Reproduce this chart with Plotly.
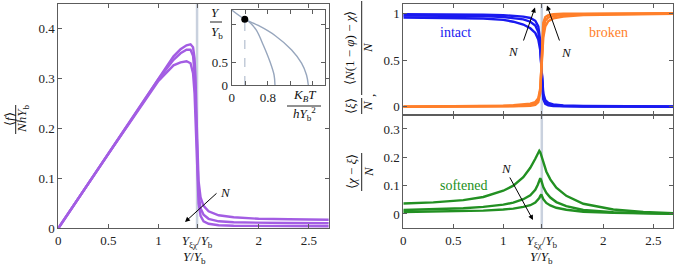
import plotly.graph_objects as go

W, H = 675, 268
FONT = "Liberation Serif, Times New Roman, serif"

# ---------------- data ----------------
# left panel: <f>/(N h Y_b) vs Y/Y_b, three N values
f_x = [0, 0.5, 1.0, 1.15, 1.22, 1.28, 1.32, 1.345, 1.36, 1.37, 1.38, 1.39, 1.40, 1.42, 1.45, 1.5, 1.6, 1.75, 2.0, 2.3, 2.7]
f_a = [0, 0.15, 0.30, 0.344, 0.358, 0.366, 0.368, 0.362, 0.34, 0.30, 0.22, 0.14, 0.095, 0.062, 0.045, 0.034, 0.026, 0.022, 0.019, 0.018, 0.017]
f_b = [0, 0.15, 0.298, 0.337, 0.35, 0.357, 0.357, 0.345, 0.31, 0.26, 0.18, 0.11, 0.07, 0.04, 0.027, 0.019, 0.014, 0.012, 0.011, 0.0105, 0.010]
f_c = [0, 0.149, 0.295, 0.326, 0.332, 0.334, 0.33, 0.31, 0.27, 0.22, 0.15, 0.085, 0.05, 0.025, 0.014, 0.009, 0.006, 0.005, 0.0045, 0.004, 0.004]

# right top: intact / broken fractions
p_x = [0, 0.4, 0.8, 1.0, 1.1, 1.2, 1.27, 1.32, 1.35, 1.37, 1.38, 1.39, 1.40, 1.42, 1.45, 1.5, 1.6, 1.8, 2.2, 2.7]
intact_1 = [0.99, 0.99, 0.985, 0.98, 0.975, 0.965, 0.95, 0.92, 0.86, 0.70, 0.45, 0.20, 0.08, 0.03, 0.015, 0.008, 0.004, 0.002, 0.001, 0.0]
intact_2 = [0.975, 0.975, 0.97, 0.96, 0.95, 0.935, 0.91, 0.87, 0.80, 0.65, 0.43, 0.22, 0.10, 0.045, 0.025, 0.014, 0.007, 0.004, 0.002, 0.001]
intact_3 = [0.955, 0.953, 0.945, 0.93, 0.91, 0.88, 0.84, 0.79, 0.72, 0.60, 0.42, 0.25, 0.14, 0.07, 0.04, 0.025, 0.014, 0.008, 0.004, 0.002]
broken_1 = [0.0, 0.0, 0.001, 0.002, 0.003, 0.006, 0.01, 0.02, 0.05, 0.15, 0.40, 0.75, 0.90, 0.96, 0.98, 0.99, 0.995, 0.997, 0.999, 1.0]
broken_2 = [0.0, 0.001, 0.003, 0.005, 0.008, 0.013, 0.02, 0.035, 0.07, 0.18, 0.40, 0.66, 0.83, 0.92, 0.955, 0.97, 0.982, 0.99, 0.995, 0.998]
broken_3 = [0.001, 0.003, 0.006, 0.01, 0.015, 0.022, 0.033, 0.05, 0.09, 0.20, 0.38, 0.58, 0.74, 0.86, 0.915, 0.945, 0.965, 0.98, 0.99, 0.996]

# right bottom: softened fraction
s_x = [0, 0.3, 0.6, 0.8, 1.0, 1.1, 1.2, 1.27, 1.32, 1.345, 1.36, 1.37, 1.38, 1.40, 1.43, 1.47, 1.53, 1.63, 1.8, 2.1, 2.4, 2.7]
soft_1 = [0.037, 0.041, 0.049, 0.06, 0.082, 0.10, 0.13, 0.163, 0.195, 0.213, 0.223, 0.218, 0.205, 0.18, 0.15, 0.122, 0.093, 0.064, 0.036, 0.016, 0.007, 0.003]
soft_2 = [0.014, 0.016, 0.02, 0.025, 0.033, 0.04, 0.052, 0.066, 0.085, 0.103, 0.117, 0.126, 0.118, 0.095, 0.075, 0.058, 0.042, 0.028, 0.014, 0.006, 0.003, 0.001]
soft_3 = [0.007, 0.008, 0.01, 0.012, 0.016, 0.019, 0.025, 0.031, 0.04, 0.048, 0.056, 0.064, 0.069, 0.052, 0.039, 0.03, 0.022, 0.015, 0.008, 0.004, 0.002, 0.001]

# inset: phase diagram Y/Y_b vs K_B T/(h Y_b^2)
in_outer_x = [0, 0.29, 0.59, 0.96, 1.33, 1.55, 1.66, 1.70]
in_outer_y = [1.65, 1.447, 1.31, 1.09, 0.77, 0.48, 0.22, 0]
in_inner_x = [0.29, 0.42, 0.55, 0.70, 0.85, 0.94, 0.96]
in_inner_y = [1.447, 1.36, 1.2, 0.88, 0.51, 0.22, 0]
in_dot = (0.29, 1.447)

Y_XI_CHI = 1.385
x_tickvals = [0, 0.5, 1, Y_XI_CHI, 2, 2.5]
x_ticktext = ["0", "0.5", "1", "<i>Y</i><sub>ξχ</sub>/<i>Y</i><sub>b</sub>", "2", "2.5"]

# ---------------- styling ----------------
PURPLE = "#a35de3"
BLUE = "#1a1af0"
ORANGE = "#ff7f2a"
GREEN = "#229022"
VLINE = "#c9d1de"
INSET = "#97a6bd"
AX = "#5c5c5c"


def X(px):
    return px / W


def Y(py):
    return 1 - py / H


fig = go.Figure()

for yy in (f_a, f_b, f_c):
    fig.add_trace(go.Scatter(x=f_x, y=yy, mode="lines", line=dict(color=PURPLE, width=2.4),
                             xaxis="x", yaxis="y", showlegend=False, hoverinfo="skip"))
for yy in (intact_1, intact_2, intact_3):
    fig.add_trace(go.Scatter(x=p_x, y=yy, mode="lines", line=dict(color=BLUE, width=2.4),
                             xaxis="x2", yaxis="y2", showlegend=False, hoverinfo="skip"))
for yy in (broken_1, broken_2, broken_3):
    fig.add_trace(go.Scatter(x=p_x, y=yy, mode="lines", line=dict(color=ORANGE, width=2.4),
                             xaxis="x2", yaxis="y2", showlegend=False, hoverinfo="skip"))
for yy in (soft_1, soft_2, soft_3):
    fig.add_trace(go.Scatter(x=s_x, y=yy, mode="lines", line=dict(color=GREEN, width=2.4),
                             xaxis="x3", yaxis="y3", showlegend=False, hoverinfo="skip"))

# inset traces
fig.add_trace(go.Scatter(x=[in_dot[0], in_dot[0]], y=[0, in_dot[1]], mode="lines",
                         line=dict(color="#c3ccd9", width=1.5, dash="dash"),
                         xaxis="x4", yaxis="y4", showlegend=False, hoverinfo="skip"))
fig.add_trace(go.Scatter(x=in_outer_x, y=in_outer_y, mode="lines", line=dict(color=INSET, width=1.4, shape="spline"),
                         xaxis="x4", yaxis="y4", showlegend=False, hoverinfo="skip"))
fig.add_trace(go.Scatter(x=in_inner_x, y=in_inner_y, mode="lines", line=dict(color=INSET, width=1.4, shape="spline"),
                         xaxis="x4", yaxis="y4", showlegend=False, hoverinfo="skip"))
fig.add_trace(go.Scatter(x=[in_dot[0]], y=[in_dot[1]], mode="markers", marker=dict(color="black", size=7),
                         xaxis="x4", yaxis="y4", showlegend=False, hoverinfo="skip"))

axis_common = dict(showline=True, mirror="ticks", linecolor=AX, linewidth=1, ticks="inside",
                   ticklen=4, tickcolor=AX, showgrid=False, zeroline=False, automargin=False,
                   tickfont=dict(family=FONT, size=13, color="#222"))

fig.update_layout(
    width=W, height=H, margin=dict(l=0, r=0, t=0, b=0, autoexpand=False),
    paper_bgcolor="white", plot_bgcolor="white",
    font=dict(family=FONT),
    xaxis=dict(domain=[X(58.3), X(328.8)], range=[0, 2.7], tickvals=x_tickvals, ticktext=x_ticktext,
               anchor="y", **axis_common),
    yaxis=dict(domain=[Y(228.3), Y(4)], range=[0, 0.4486], tickvals=[0, 0.1, 0.2, 0.3, 0.4],
               ticktext=["0", "0.1", "0.2", "0.3", "0.4"], anchor="x", **axis_common),
    xaxis2=dict(domain=[X(403.3), X(673.3)], range=[0, 2.7], tickvals=x_tickvals, showticklabels=False,
                anchor="y2", **axis_common),
    yaxis2=dict(domain=[Y(114.5), Y(3.5)], range=[-0.0835, 1.105], tickvals=[0, 0.5, 1],
                ticktext=["0", "0.5", "1"], anchor="x2", **axis_common),
    xaxis3=dict(domain=[X(403.3), X(673.3)], range=[0, 2.7], tickvals=x_tickvals, ticktext=x_ticktext,
                anchor="y3", **axis_common),
    yaxis3=dict(domain=[Y(228.3), Y(114.5)], range=[-0.0505, 0.351], tickvals=[0, 0.1, 0.2, 0.3],
                ticktext=["0", "0.1", "0.2", "0.3"], anchor="x3", **axis_common),
    xaxis4=dict(domain=[X(231.7), X(325)], range=[0, 2.07], tickvals=[0, 0.3, 0.8, 1.3, 1.8],
                ticktext=["0", "", "0.8", "", ""], anchor="y4", **axis_common),
    yaxis4=dict(domain=[Y(85), Y(10)], range=[0, 1.65], tickvals=[0, 0.5, 1.34],
                ticktext=["0", "0.5", ""], anchor="x4", **axis_common),
)

shapes = []
for xa, ya in (("x", "y"), ("x2", "y2"), ("x3", "y3")):
    shapes.append(dict(type="line", xref=xa, yref=ya + " domain", x0=Y_XI_CHI, x1=Y_XI_CHI, y0=0, y1=1,
                       line=dict(color=VLINE, width=2.5), layer="below"))

annots = []


def txt(px, py, text, size=13, color="#111", angle=0, italic=False):
    if italic:
        text = "<i>" + text + "</i>"
    annots.append(dict(x=X(px), y=Y(py), xref="paper", yref="paper", text=text, showarrow=False,
                       font=dict(family=FONT, size=size, color=color), textangle=angle,
                       xanchor="center", yanchor="middle"))


def hbar(x0, x1, py):
    shapes.append(dict(type="line", xref="paper", yref="paper", x0=X(x0), x1=X(x1), y0=Y(py), y1=Y(py),
                       line=dict(color="#222", width=1)))


def vbar(px, y0, y1):
    shapes.append(dict(type="line", xref="paper", yref="paper", x0=X(px), x1=X(px), y0=Y(y0), y1=Y(y1),
                       line=dict(color="#222", width=1)))


# left y label: <f>/(N h Y_b)
txt(9.5, 119.5, "⟨<i>f</i>⟩", angle=-90)
vbar(15.7, 105, 134)
txt(22.5, 119.5, "<i>NhY</i><sub>b</sub>", angle=-90)

# right top y label
txt(350, 48, "⟨<i>N</i>(1 − <i>φ</i>) − <i>χ</i>⟩", angle=-90)
vbar(361.7, 1, 95)
txt(368, 48, "<i>N</i>", angle=-90)
txt(351, 106, "⟨<i>ξ</i>⟩", angle=-90)
vbar(361.7, 98, 114)
txt(368, 106, "<i>N</i>", angle=-90)
txt(370, 96, ",", angle=-90)

# right bottom y label
txt(351, 172, "⟨<i>χ</i> − <i>ξ</i>⟩", angle=-90)
vbar(361.7, 153, 191)
txt(368, 172, "<i>N</i>", angle=-90)

# x titles
txt(195, 257, "<i>Y</i>/<i>Y</i><sub>b</sub>")
txt(541.7, 257, "<i>Y</i>/<i>Y</i><sub>b</sub>")

# inset labels
txt(215, 13, "<i>Y</i>")
hbar(210, 222, 22)
txt(217, 32, "<i>Y</i><sub>b</sub>")
txt(304, 96, "<i>K</i><sub><i>B</i></sub><i>T</i>")
hbar(287, 321, 106)
txt(304, 114, "<i>hY</i><sub>b</sub><sup>2</sup>")

# curve labels
txt(455, 32, "intact", size=14, color=BLUE)
txt(608, 32, "broken", size=14, color=ORANGE)
txt(463, 185, "softened", size=14, color=GREEN)

# N labels
txt(225, 192, "N", italic=True)
txt(513, 51, "N", italic=True)
txt(566, 52, "N", italic=True)
txt(506, 168, "N", italic=True)


def arrow(xa, ya, hx, hy, tx_px, ty_px, hpx, hpy):
    annots.append(dict(x=hx, y=hy, xref=xa, yref=ya, ax=tx_px - hpx, ay=ty_px - hpy,
                       showarrow=True, arrowhead=2, arrowsize=1, arrowwidth=1, arrowcolor="black", text=""))


# left arrow: tail (218,192) -> head (185,222)
arrow("x", "y", (185 - 58.3) / 270.5 * 2.7, (228.3 - 222) / 224.3 * 0.4486, 218, 192, 185, 222)
# right top arrows
arrow("x2", "y2", (535 - 403.3) / 270 * 2.7, 1.105 - (7.5 - 3.5) / 111 * 1.1885, 523, 42, 535, 7.5)
arrow("x2", "y2", (547 - 403.3) / 270 * 2.7, 1.105 - (5.5 - 3.5) / 111 * 1.1885, 560, 42, 547, 5.5)
# right bottom arrow
arrow("x3", "y3", (533 - 403.3) / 270 * 2.7, 0.351 - (220 - 114.5) / 113.8 * 0.4015, 509, 176, 533, 220)

fig.update_layout(shapes=shapes, annotations=annots)
fig.write_html("out.html", config={"displayModeBar": False},
               post_script="document.body.style.margin='0';document.body.style.overflow='hidden';")
